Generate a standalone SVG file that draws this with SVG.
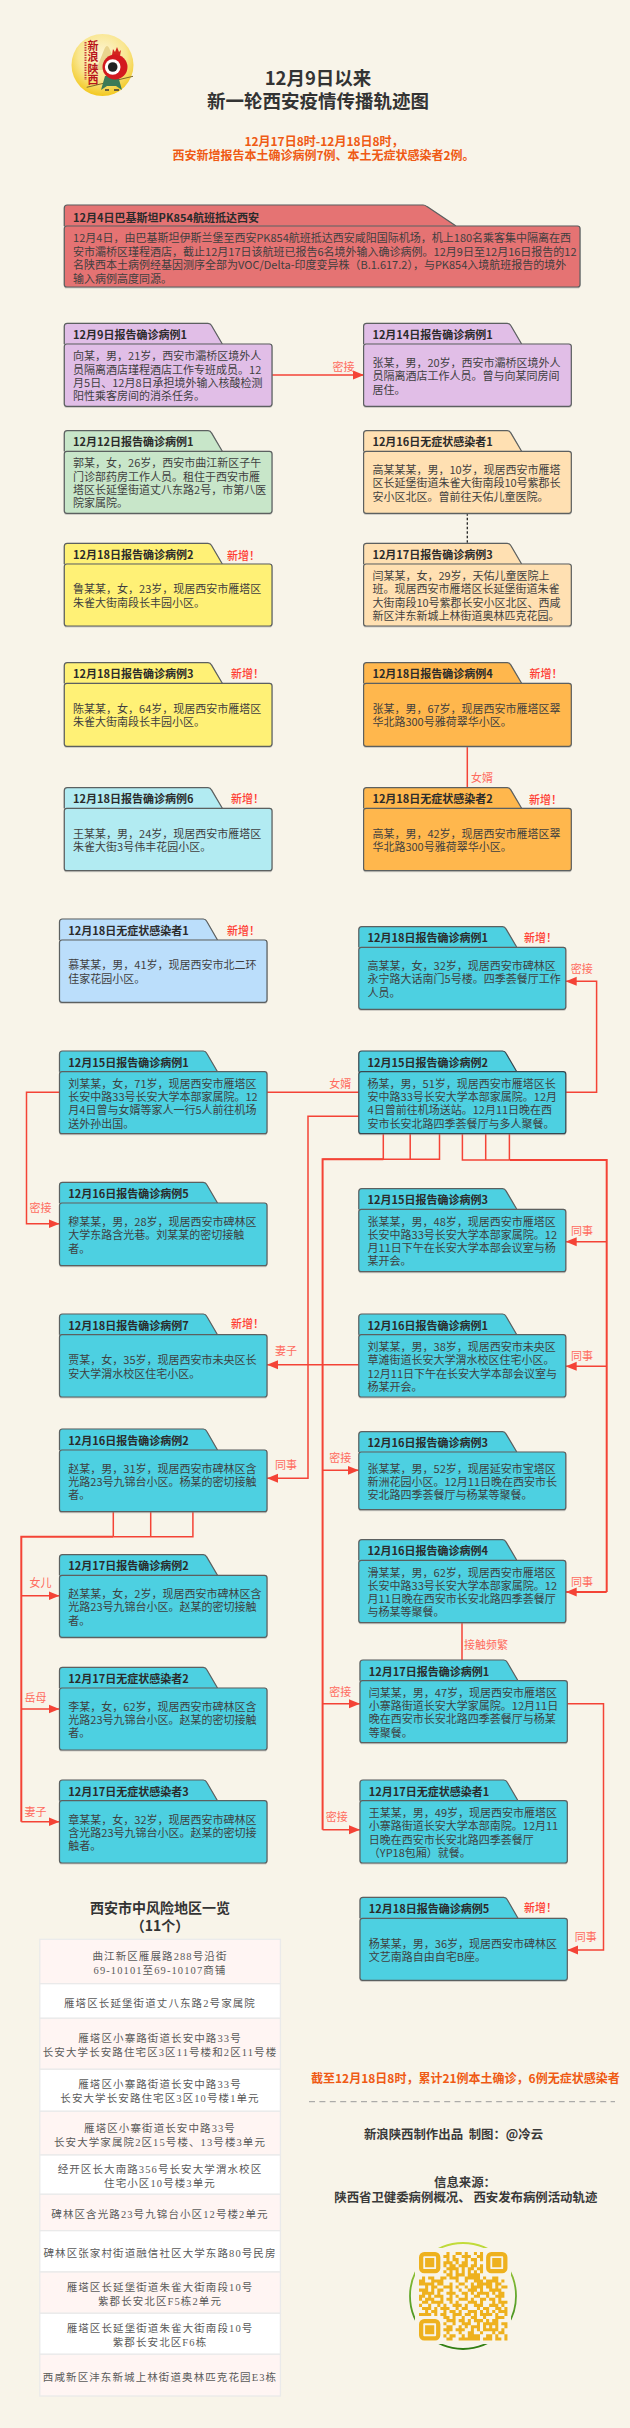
<svg xmlns="http://www.w3.org/2000/svg" width="630" height="2428" viewBox="0 0 630 2428">
<style>
text{font-family:"Noto Sans CJK SC","Noto Sans",sans-serif}
.f{stroke:#5c6060;stroke-width:1.2;filter:url(#sh)}
.d{stroke:#37474f}
.t{font-size:11px;font-weight:700;fill:#2b2b2b}
.b{font-size:11px;fill:#3f3f3f}
.l{font-size:11px;fill:#ff6b5e}
.n{font-size:11px;fill:#ff3d33;font-weight:500}
.c{fill:none;stroke:#f44336;stroke-width:1.5}
.c2{fill:none;stroke:#f44336;stroke-width:2}
.a{marker-end:url(#ar)}
.ttl{font-size:18.5px;font-weight:700;fill:#333;text-anchor:middle}
.or{font-size:12px;font-weight:700;fill:#ef5a14}
.blk{font-size:12.4px;font-weight:700;fill:#3a3a3a;text-anchor:middle}
.rp{fill:#fff5f3;stroke:#eaeaea;stroke-width:1.3}
.rw{fill:#fff;stroke:#eaeaea;stroke-width:1.3}
.tb{font-family:"Liberation Serif","Noto Sans CJK SC",serif;font-size:10.5px;letter-spacing:1.1px;fill:#5a5a5a;text-anchor:middle}
.purple{fill:#e1bee7}.green{fill:#c8e6c9}.yellow{fill:#fff176}.peach{fill:#ffe0b2}.orange{fill:#ffb74d}.cyan{fill:#b2ebf2}.blue{fill:#bbdefb}.teal{fill:#4dd0e1}.red{fill:#e57373}
</style>
<defs>
<filter id="sh" x="-5%" y="-5%" width="110%" height="115%"><feDropShadow dx="0" dy="0.6" stdDeviation="0.5" flood-color="#8a8a8a" flood-opacity="0.6"/></filter>
<marker id="ar" markerUnits="userSpaceOnUse" markerWidth="11" markerHeight="10" refX="11" refY="5" orient="auto"><path d="M0 .5L11 5L0 9.5z" fill="#f44336"/></marker>
<radialGradient id="gold" cx="50%" cy="35%" r="65%"><stop offset="0" stop-color="#fdf6d8"/><stop offset=".6" stop-color="#f9e690"/><stop offset="1" stop-color="#f3c81e"/></radialGradient>
<linearGradient id="ring" x1="0" y1="0" x2="0" y2="1"><stop offset="0" stop-color="#c3dc3a"/><stop offset=".5" stop-color="#63a82e"/><stop offset="1" stop-color="#2f7d12"/></linearGradient>
</defs>
<rect width="630" height="2428" fill="#f8f4e9"/>

<g id="logo">
<circle cx="102.5" cy="65" r="31" fill="url(#gold)"/>
<path d="M96 70L104 50Q107 42 110 50L118 70z" fill="#e9d48e"/>
<path d="M85.500 42V80" stroke="#c9433a" stroke-width="2" stroke-dasharray="1.500 1" fill="none"/>
<text x="93" y="50" font-size="11" font-weight="700" fill="#b8141c" text-anchor="middle">新</text>
<text x="93" y="61.300" font-size="11" font-weight="700" fill="#b8141c" text-anchor="middle">浪</text>
<text x="93" y="72.600" font-size="11" font-weight="700" fill="#b8141c" text-anchor="middle">陕</text>
<text x="93" y="84" font-size="11" font-weight="700" fill="#b8141c" text-anchor="middle">西</text>
<path d="M86.700 87.300L133 76.300" stroke="#7d6a2a" stroke-width="1"/>
<path d="M101 90L105 76H118L122 90L116 86H107z" fill="#3b7a57"/>
<path d="M105 90h4M114 90h5" stroke="#3a3a3a" stroke-width="1.500"/>
<path d="M112 55L113 49L115 52L117 47L119 52L121 50L120 56z" fill="#d3261f"/>
<circle cx="115" cy="67" r="12.500" fill="#d3191f"/>
<circle cx="112.700" cy="67" r="7.800" fill="#fff"/>
<circle cx="112.700" cy="67" r="4.800" fill="#222"/>
</g>

<g id="header">
<text class="ttl" x="318" y="85">12月9日以来</text>
<text class="ttl" x="318" y="108">新一轮西安疫情传播轨迹图</text>
<text class="or" x="324" y="146" text-anchor="middle">12月17日8时-12月18日8时，</text>
<text class="or" x="323.500" y="160" text-anchor="middle">西安新增报告本土确诊病例7例、本土无症状感染者2例。</text>
</g>

<g id="connectors">
<path class="c a" d="M272 375H364"/>
<path d="M467.300 513.300V543.300" fill="none" stroke="#222" stroke-width="1.300" stroke-dasharray="2.500 2"/>
<path class="c" d="M467.300 746.300V787.700"/>
<path class="c a" d="M565.700 1092.300H596.600V981.300H565.700"/>
<path class="c a" d="M59.500 1092.300H26.500V1223.700H59.500"/>
<path class="c" d="M267 1092.300H358.800"/>
<path class="c a" d="M358.800 1116.300H308V1478.300H267"/>
<path class="c" d="M383.300 1133.700V1159.300M410.200 1133.700V1159.300M439.500 1133.700V1159.300H322.600"/>
<path class="c2" d="M383.300 1159.300H322.600V1829.700"/>
<path class="c a" d="M322.600 1470.300H358.800"/>
<path class="c a" d="M322.600 1703.700H360"/>
<path class="c a" d="M322.600 1829.700H360"/>
<path class="c" d="M462.400 1133.700V1160H509.400M485.700 1133.700V1160M509.400 1133.700V1160"/>
<path class="c2" d="M509.400 1160H606.700V1592"/>
<path class="c a" d="M606.700 1241.700H565.700"/>
<path class="c a" d="M606.700 1366.300H565.700"/>
<path class="c2 a" d="M606.700 1592H565.700"/>
<path class="c a" d="M358.800 1364.700H267"/>
<path class="c" d="M462 1622.700V1660"/>
<path class="c" d="M113.300 1511.700V1536.700M150.700 1511.700V1536.700M192.900 1511.700V1536.700H113.300"/>
<path class="c2" d="M113.300 1536.700H21.300V1821.700"/>
<path class="c a" d="M21.300 1595.700H59.500"/>
<path class="c a" d="M21.300 1709H59.500"/>
<path class="c a" d="M21.300 1821.700H59.500"/>
<path class="c a" d="M567.300 1703.700H603.500V1950H567.300"/>
<text class="l" x="343.500" y="370.700" text-anchor="middle">密接</text>
<text class="l" x="482" y="782.300" text-anchor="middle">女婿</text>
<text class="l" x="581.800" y="973.300" text-anchor="middle">密接</text>
<text class="l" x="40.600" y="1211.700" text-anchor="middle">密接</text>
<text class="l" x="340.300" y="1088.300" text-anchor="middle">女婿</text>
<text class="l" x="286" y="1469.300" text-anchor="middle">同事</text>
<text class="l" x="340.300" y="1461.700" text-anchor="middle">密接</text>
<text class="l" x="340.300" y="1695.700" text-anchor="middle">密接</text>
<text class="l" x="336.700" y="1821" text-anchor="middle">密接</text>
<text class="l" x="582" y="1235" text-anchor="middle">同事</text>
<text class="l" x="582" y="1360" text-anchor="middle">同事</text>
<text class="l" x="582" y="1586" text-anchor="middle">同事</text>
<text class="l" x="286" y="1355" text-anchor="middle">妻子</text>
<text class="l" x="486" y="1649" text-anchor="middle">接触频繁</text>
<text class="l" x="40.600" y="1586.700" text-anchor="middle">女儿</text>
<text class="l" x="35.400" y="1701.700" text-anchor="middle">岳母</text>
<text class="l" x="35.400" y="1815.700" text-anchor="middle">妻子</text>
<text class="l" x="585.800" y="1941" text-anchor="middle">同事</text>
</g>

<g id="n0" class="red">
<path class="f" d="M64.300 226V208Q64.300 205 67.300 205H423Q425 205 427 206.600L456 226"/>
<rect class="f" x="64.300" y="226" width="515.700" height="61" rx="2.500"/>
<text class="t" x="73.100" y="221.500">12月4日巴基斯坦PK854航班抵达西安</text>
<text class="b"><tspan x="73.100" y="242.300">12月4日，由巴基斯坦伊斯兰堡至西安PK854航班抵达西安咸阳国际机场，机上180名乘客集中隔离在西</tspan><tspan x="73.100" dy="13.400">安市灞桥区瑾程酒店，截止12月17日该航班已报告6名境外输入确诊病例。12月9日至12月16日报告的12</tspan><tspan x="73.100" dy="13.400">名陕西本土病例经基因测序全部为VOC/Delta-印度变异株（B.1.617.2），与PK854入境航班报告的境外</tspan><tspan x="73.100" dy="13.400">输入病例高度同源。</tspan></text>
</g>

<g id="n1" class="purple">
<path class="f" d="M64.300 344V326.300Q64.300 323.300 67.300 323.300H208Q210.500 323.300 211.500 325.500L222.300 344"/>
<rect class="f" x="64.300" y="344" width="207.700" height="62.300" rx="2.500"/>
<text class="t" x="73.100" y="339">12月9日报告确诊病例1</text>
<text class="b"><tspan x="73.100" y="360.200">向某，男，21岁，西安市灞桥区境外人</tspan><tspan x="73.100" dy="13.330">员隔离酒店瑾程酒店工作专班成员。12</tspan><tspan x="73.100" dy="13.330">月5日、12月8日承担境外输入核酸检测</tspan><tspan x="73.100" dy="13.330">阳性乘客房间的消杀任务。</tspan></text>
</g>
<g id="n2" class="purple">
<path class="f" d="M363.600 344V326.300Q363.600 323.300 366.600 323.300H507.300Q509.800 323.300 510.800 325.500L521.600 344"/>
<rect class="f" x="363.600" y="344" width="207.700" height="62.300" rx="2.500"/>
<text class="t" x="372.400" y="339">12月14日报告确诊病例1</text>
<text class="b"><tspan x="372.400" y="366.900">张某，男，20岁，西安市灞桥区境外人</tspan><tspan x="372.400" dy="13.330">员隔离酒店工作人员。曾与向某同房间</tspan><tspan x="372.400" dy="13.330">居住。</tspan></text>
</g>
<g id="n3" class="green">
<path class="f" d="M64.300 451.300V433.700Q64.300 430.700 67.300 430.700H208Q210.500 430.700 211.500 432.900L222.300 451.300"/>
<rect class="f" x="64.300" y="451.300" width="207.700" height="62" rx="2.500"/>
<text class="t" x="73.100" y="446.300">12月12日报告确诊病例1</text>
<text class="b"><tspan x="73.100" y="467.300">郭某，女，26岁，西安市曲江新区子午</tspan><tspan x="73.100" dy="13.330">门诊部药房工作人员。租住于西安市雁</tspan><tspan x="73.100" dy="13.330">塔区长延堡街道丈八东路2号，市第八医</tspan><tspan x="73.100" dy="13.330">院家属院。</tspan></text>
</g>
<g id="n4" class="peach">
<path class="f" d="M363.600 451.300V433.700Q363.600 430.700 366.600 430.700H507.300Q509.800 430.700 510.800 432.900L521.600 451.300"/>
<rect class="f" x="363.600" y="451.300" width="207.700" height="62" rx="2.500"/>
<text class="t" x="372.400" y="446.300">12月16日无症状感染者1</text>
<text class="b"><tspan x="372.400" y="474">高某某某，男，10岁，现居西安市雁塔</tspan><tspan x="372.400" dy="13.330">区长延堡街道朱雀大街南段10号紫郡长</tspan><tspan x="372.400" dy="13.330">安小区北区。曾前往天佑儿童医院。</tspan></text>
</g>
<g id="n5" class="yellow">
<path class="f" d="M64.300 564V546.300Q64.300 543.300 67.300 543.300H208Q210.500 543.300 211.500 545.500L222.300 564"/>
<rect class="f" x="64.300" y="564" width="207.700" height="62" rx="2.500"/>
<text class="t" x="73.100" y="559">12月18日报告确诊病例2</text>
<text class="n" x="227" y="560">新增！</text>
<text class="b"><tspan x="73.100" y="593.300">鲁某某，女，23岁，现居西安市雁塔区</tspan><tspan x="73.100" dy="13.330">朱雀大街南段长丰园小区。</tspan></text>
</g>
<g id="n6" class="peach">
<path class="f" d="M363.600 564V546.300Q363.600 543.300 366.600 543.300H507.300Q509.800 543.300 510.800 545.500L521.600 564"/>
<rect class="f" x="363.600" y="564" width="207.700" height="62" rx="2.500"/>
<text class="t" x="372.400" y="559">12月17日报告确诊病例3</text>
<text class="b"><tspan x="372.400" y="580">闫某某，女，29岁，天佑儿童医院上</tspan><tspan x="372.400" dy="13.330">班。现居西安市雁塔区长延堡街道朱雀</tspan><tspan x="372.400" dy="13.330">大街南段10号紫郡长安小区北区、西咸</tspan><tspan x="372.400" dy="13.330">新区沣东新城上林街道奥林匹克花园。</tspan></text>
</g>
<g id="n7" class="yellow">
<path class="f" d="M64.300 683.300V665.700Q64.300 662.700 67.300 662.700H208Q210.500 662.700 211.500 664.900L222.300 683.300"/>
<rect class="f" x="64.300" y="683.300" width="207.700" height="63" rx="2.500"/>
<text class="t" x="73.100" y="678.300">12月18日报告确诊病例3</text>
<text class="n" x="231" y="678">新增！</text>
<text class="b"><tspan x="73.100" y="713.100">陈某某，女，64岁，现居西安市雁塔区</tspan><tspan x="73.100" dy="13.330">朱雀大街南段长丰园小区。</tspan></text>
</g>
<g id="n8" class="orange">
<path class="f" d="M363.600 683.300V665.700Q363.600 662.700 366.600 662.700H507.300Q509.800 662.700 510.800 664.900L521.600 683.300"/>
<rect class="f" x="363.600" y="683.300" width="207.700" height="63" rx="2.500"/>
<text class="t" x="372.400" y="678.300">12月18日报告确诊病例4</text>
<text class="n" x="529.500" y="678">新增！</text>
<text class="b"><tspan x="372.400" y="713.100">张某，男，67岁，现居西安市雁塔区翠</tspan><tspan x="372.400" dy="13.330">华北路300号雅荷翠华小区。</tspan></text>
</g>
<g id="n9" class="cyan">
<path class="f" d="M64.300 808.300V790.700Q64.300 787.700 67.300 787.700H208Q210.500 787.700 211.500 789.900L222.300 808.300"/>
<rect class="f" x="64.300" y="808.300" width="207.700" height="62.400" rx="2.500"/>
<text class="t" x="73.100" y="803.300">12月18日报告确诊病例6</text>
<text class="n" x="231" y="802.700">新增！</text>
<text class="b"><tspan x="73.100" y="837.800">王某某，男，24岁，现居西安市雁塔区</tspan><tspan x="73.100" dy="13.330">朱雀大街3号伟丰花园小区。</tspan></text>
</g>
<g id="n10" class="orange">
<path class="f" d="M363.600 808.300V790.700Q363.600 787.700 366.600 787.700H507.300Q509.800 787.700 510.800 789.900L521.600 808.300"/>
<rect class="f" x="363.600" y="808.300" width="207.700" height="62.400" rx="2.500"/>
<text class="t" x="372.400" y="803.300">12月18日无症状感染者2</text>
<text class="n" x="529" y="804">新增！</text>
<text class="b"><tspan x="372.400" y="837.800">高某，男，42岁，现居西安市雁塔区翠</tspan><tspan x="372.400" dy="13.330">华北路300号雅荷翠华小区。</tspan></text>
</g>
<g id="n11" class="blue">
<path class="f" d="M59.500 940V922Q59.500 919 62.500 919H203.200Q205.700 919 206.700 921.200L217.500 940"/>
<rect class="f" x="59.500" y="940" width="207.500" height="62.300" rx="2.500"/>
<text class="t" x="68.300" y="935">12月18日无症状感染者1</text>
<text class="n" x="227" y="934.700">新增！</text>
<text class="b"><tspan x="68.300" y="969.400">慕某某，男，41岁，现居西安市北二环</tspan><tspan x="68.300" dy="13.330">佳家花园小区。</tspan></text>
</g>
<g id="n12" class="teal">
<path class="f" d="M358.800 947.300V929.700Q358.800 926.700 361.800 926.700H502.500Q505 926.700 506 928.900L516.800 947.300"/>
<rect class="f" x="358.800" y="947.300" width="207" height="62" rx="2.500"/>
<text class="t" x="367.600" y="942.300">12月18日报告确诊病例1</text>
<text class="n" x="524" y="942">新增！</text>
<text class="b"><tspan x="367.600" y="970">高某某，女，32岁，现居西安市碑林区</tspan><tspan x="367.600" dy="13.330">永宁路大话南门5号楼。四季荟餐厅工作</tspan><tspan x="367.600" dy="13.330">人员。</tspan></text>
</g>
<g id="n13" class="teal">
<path class="f" d="M59.500 1071.700V1054Q59.500 1051 62.500 1051H203.200Q205.700 1051 206.700 1053.200L217.500 1071.700"/>
<rect class="f" x="59.500" y="1071.700" width="207.500" height="62" rx="2.500"/>
<text class="t" x="68.300" y="1066.700">12月15日报告确诊病例1</text>
<text class="b"><tspan x="68.300" y="1087.700">刘某某，女，71岁，现居西安市雁塔区</tspan><tspan x="68.300" dy="13.330">长安中路33号长安大学本部家属院。12</tspan><tspan x="68.300" dy="13.330">月4日曾与女婿等家人一行5人前往机场</tspan><tspan x="68.300" dy="13.330">送外孙出国。</tspan></text>
</g>
<g id="n14" class="teal">
<path class="f d" d="M358.800 1071.700V1054Q358.800 1051 361.800 1051H502.500Q505 1051 506 1053.200L516.800 1071.700"/>
<rect class="f d" x="358.800" y="1071.700" width="207" height="62" rx="2.500"/>
<text class="t" x="367.600" y="1066.700">12月15日报告确诊病例2</text>
<text class="b"><tspan x="367.600" y="1087.700">杨某，男，51岁，现居西安市雁塔区长</tspan><tspan x="367.600" dy="13.330">安中路33号长安大学本部家属院。12月</tspan><tspan x="367.600" dy="13.330">4日曾前往机场送站。12月11日晚在西</tspan><tspan x="367.600" dy="13.330">安市长安北路四季荟餐厅与多人聚餐。</tspan></text>
</g>
<g id="n15" class="teal">
<path class="f" d="M59.500 1203V1185.300Q59.500 1182.300 62.500 1182.300H203.200Q205.700 1182.300 206.700 1184.500L217.500 1203"/>
<rect class="f" x="59.500" y="1203" width="207.500" height="62.700" rx="2.500"/>
<text class="t" x="68.300" y="1198">12月16日报告确诊病例5</text>
<text class="b"><tspan x="68.300" y="1226">穆某某，男，28岁，现居西安市碑林区</tspan><tspan x="68.300" dy="13.330">大学东路含光巷。刘某某的密切接触</tspan><tspan x="68.300" dy="13.330">者。</tspan></text>
</g>
<g id="n16" class="teal">
<path class="f" d="M358.800 1209.300V1191.700Q358.800 1188.700 361.800 1188.700H502.500Q505 1188.700 506 1190.900L516.800 1209.300"/>
<rect class="f" x="358.800" y="1209.300" width="207" height="62.400" rx="2.500"/>
<text class="t" x="367.600" y="1204.300">12月15日报告确诊病例3</text>
<text class="b"><tspan x="367.600" y="1225.500">张某某，男，48岁，现居西安市雁塔区</tspan><tspan x="367.600" dy="13.330">长安中路33号长安大学本部家属院。12</tspan><tspan x="367.600" dy="13.330">月11日下午在长安大学本部会议室与杨</tspan><tspan x="367.600" dy="13.330">某开会。</tspan></text>
</g>
<g id="n17" class="teal">
<path class="f" d="M59.500 1334.700V1317Q59.500 1314 62.500 1314H203.200Q205.700 1314 206.700 1316.200L217.500 1334.700"/>
<rect class="f" x="59.500" y="1334.700" width="207.500" height="62.300" rx="2.500"/>
<text class="t" x="68.300" y="1329.700">12月18日报告确诊病例7</text>
<text class="n" x="231" y="1327.700">新增！</text>
<text class="b"><tspan x="68.300" y="1364.200">贾某，女，35岁，现居西安市未央区长</tspan><tspan x="68.300" dy="13.330">安大学渭水校区住宅小区。</tspan></text>
</g>
<g id="n18" class="teal">
<path class="f" d="M358.800 1334.700V1317Q358.800 1314 361.800 1314H502.500Q505 1314 506 1316.200L516.800 1334.700"/>
<rect class="f" x="358.800" y="1334.700" width="207" height="62.300" rx="2.500"/>
<text class="t" x="367.600" y="1329.700">12月16日报告确诊病例1</text>
<text class="b"><tspan x="367.600" y="1350.900">刘某某，男，38岁，现居西安市未央区</tspan><tspan x="367.600" dy="13.330">草滩街道长安大学渭水校区住宅小区。</tspan><tspan x="367.600" dy="13.330">12月11日下午在长安大学本部会议室与</tspan><tspan x="367.600" dy="13.330">杨某开会。</tspan></text>
</g>
<g id="n19" class="teal">
<path class="f" d="M59.500 1450V1432Q59.500 1429 62.500 1429H203.200Q205.700 1429 206.700 1431.200L217.500 1450"/>
<rect class="f" x="59.500" y="1450" width="207.500" height="61.700" rx="2.500"/>
<text class="t" x="68.300" y="1445">12月16日报告确诊病例2</text>
<text class="b"><tspan x="68.300" y="1472.600">赵某，男，31岁，现居西安市碑林区含</tspan><tspan x="68.300" dy="13.330">光路23号九锦台小区。杨某的密切接触</tspan><tspan x="68.300" dy="13.330">者。</tspan></text>
</g>
<g id="n20" class="teal">
<path class="f" d="M358.800 1452V1434.700Q358.800 1431.700 361.800 1431.700H502.500Q505 1431.700 506 1433.900L516.800 1452"/>
<rect class="f" x="358.800" y="1452" width="207" height="57.700" rx="2.500"/>
<text class="t" x="367.600" y="1447">12月16日报告确诊病例3</text>
<text class="b"><tspan x="367.600" y="1472.600">张某某，男，52岁，现居延安市宝塔区</tspan><tspan x="367.600" dy="13.330">新洲花园小区。12月11日晚在西安市长</tspan><tspan x="367.600" dy="13.330">安北路四季荟餐厅与杨某等聚餐。</tspan></text>
</g>
<g id="n21" class="teal">
<path class="f" d="M358.800 1560.300V1542.700Q358.800 1539.700 361.800 1539.700H502.500Q505 1539.700 506 1541.900L516.800 1560.300"/>
<rect class="f" x="358.800" y="1560.300" width="207" height="62.400" rx="2.500"/>
<text class="t" x="367.600" y="1555.300">12月16日报告确诊病例4</text>
<text class="b"><tspan x="367.600" y="1576.500">滑某某，男，62岁，现居西安市雁塔区</tspan><tspan x="367.600" dy="13.330">长安中路33号长安大学本部家属院。12</tspan><tspan x="367.600" dy="13.330">月11日晚在西安市长安北路四季荟餐厅</tspan><tspan x="367.600" dy="13.330">与杨某等聚餐。</tspan></text>
</g>
<g id="n22" class="teal">
<path class="f" d="M59.500 1575.300V1557.700Q59.500 1554.700 62.500 1554.700H203.200Q205.700 1554.700 206.700 1556.900L217.500 1575.300"/>
<rect class="f" x="59.500" y="1575.300" width="207.500" height="62" rx="2.500"/>
<text class="t" x="68.300" y="1570.300">12月17日报告确诊病例2</text>
<text class="b"><tspan x="68.300" y="1598">赵某某，女，2岁，现居西安市碑林区含</tspan><tspan x="68.300" dy="13.330">光路23号九锦台小区。赵某的密切接触</tspan><tspan x="68.300" dy="13.330">者。</tspan></text>
</g>
<g id="n23" class="teal">
<path class="f" d="M360 1680.700V1663Q360 1660 363 1660H503.700Q506.200 1660 507.200 1662.200L518 1680.700"/>
<rect class="f" x="360" y="1680.700" width="207.300" height="62" rx="2.500"/>
<text class="t" x="368.800" y="1675.700">12月17日报告确诊病例1</text>
<text class="b"><tspan x="368.800" y="1696.700">闫某某，男，47岁，现居西安市雁塔区</tspan><tspan x="368.800" dy="13.330">小寨路街道长安大学家属院。12月11日</tspan><tspan x="368.800" dy="13.330">晚在西安市长安北路四季荟餐厅与杨某</tspan><tspan x="368.800" dy="13.330">等聚餐。</tspan></text>
</g>
<g id="n24" class="teal">
<path class="f" d="M59.500 1688V1670.300Q59.500 1667.300 62.500 1667.300H203.200Q205.700 1667.300 206.700 1669.500L217.500 1688"/>
<rect class="f" x="59.500" y="1688" width="207.500" height="62" rx="2.500"/>
<text class="t" x="68.300" y="1683">12月17日无症状感染者2</text>
<text class="b"><tspan x="68.300" y="1710.700">李某，女，62岁，现居西安市碑林区含</tspan><tspan x="68.300" dy="13.330">光路23号九锦台小区。赵某的密切接触</tspan><tspan x="68.300" dy="13.330">者。</tspan></text>
</g>
<g id="n25" class="teal">
<path class="f" d="M59.500 1800.700V1783Q59.500 1780 62.500 1780H203.200Q205.700 1780 206.700 1782.200L217.500 1800.700"/>
<rect class="f" x="59.500" y="1800.700" width="207.500" height="62.300" rx="2.500"/>
<text class="t" x="68.300" y="1795.700">12月17日无症状感染者3</text>
<text class="b"><tspan x="68.300" y="1823.600">章某某，女，32岁，现居西安市碑林区</tspan><tspan x="68.300" dy="13.330">含光路23号九锦台小区。赵某的密切接</tspan><tspan x="68.300" dy="13.330">触者。</tspan></text>
</g>
<g id="n26" class="teal">
<path class="f" d="M360 1800.700V1783Q360 1780 363 1780H503.700Q506.200 1780 507.200 1782.200L518 1800.700"/>
<rect class="f" x="360" y="1800.700" width="207.300" height="62.300" rx="2.500"/>
<text class="t" x="368.800" y="1795.700">12月17日无症状感染者1</text>
<text class="b"><tspan x="368.800" y="1816.900">王某某，男，49岁，现居西安市雁塔区</tspan><tspan x="368.800" dy="13.330">小寨路街道长安大学本部南院。12月11</tspan><tspan x="368.800" dy="13.330">日晚在西安市长安北路四季荟餐厅</tspan><tspan x="368.800" dy="13.330">（YP18包厢）就餐。</tspan></text>
</g>
<g id="n27" class="teal">
<path class="f" d="M360 1918.300V1900.300Q360 1897.300 363 1897.300H503.700Q506.200 1897.300 507.200 1899.500L518 1918.300"/>
<rect class="f" x="360" y="1918.300" width="207.300" height="62" rx="2.500"/>
<text class="t" x="368.800" y="1913.300">12月18日报告确诊病例5</text>
<text class="n" x="524" y="1912.300">新增！</text>
<text class="b"><tspan x="368.800" y="1947.600">杨某某，男，36岁，现居西安市碑林区</tspan><tspan x="368.800" dy="13.330">文艺南路自由自宅B座。</tspan></text>
</g>

<g id="risk-table">
<text x="160" y="1913.300" font-size="14" font-weight="700" fill="#333" text-anchor="middle">西安市中风险地区一览</text>
<text x="160" y="1930.700" font-size="14" font-weight="700" fill="#333" text-anchor="middle">（11个）</text>
<rect class="rp" x="39.800" y="1939.300" width="240.600" height="44.400"/>
<rect class="rw" x="39.800" y="1983.700" width="240.600" height="34.600"/>
<rect class="rp" x="39.800" y="2018.300" width="240.600" height="51"/>
<rect class="rw" x="39.800" y="2069.300" width="240.600" height="42"/>
<rect class="rp" x="39.800" y="2111.300" width="240.600" height="43.700"/>
<rect class="rw" x="39.800" y="2155" width="240.600" height="39.300"/>
<rect class="rp" x="39.800" y="2194.300" width="240.600" height="36.400"/>
<rect class="rw" x="39.800" y="2230.700" width="240.600" height="41.300"/>
<rect class="rp" x="39.800" y="2272" width="240.600" height="41.300"/>
<rect class="rw" x="39.800" y="2313.300" width="240.600" height="41"/>
<rect class="rp" x="39.800" y="2354.300" width="240.600" height="41.700"/>
<text class="tb" x="160" y="1960">曲江新区雁展路288号沿街</text>
<text class="tb" x="160" y="1974">69-10101至69-10107商铺</text>
<text class="tb" x="160" y="2006.700">雁塔区长延堡街道丈八东路2号家属院</text>
<text class="tb" x="160" y="2041.700">雁塔区小寨路街道长安中路33号</text>
<text class="tb" x="160" y="2055.700">长安大学长安路住宅区3区11号楼和2区11号楼</text>
<text class="tb" x="160" y="2088.300">雁塔区小寨路街道长安中路33号</text>
<text class="tb" x="160" y="2102.300">长安大学长安路住宅区3区10号楼1单元</text>
<text class="tb" x="160" y="2131.700">雁塔区小寨街道长安中路33号</text>
<text class="tb" x="160" y="2145.700">长安大学家属院2区15号楼、13号楼3单元</text>
<text class="tb" x="160" y="2172.700">经开区长大南路356号长安大学渭水校区</text>
<text class="tb" x="160" y="2186.700">住宅小区10号楼3单元</text>
<text class="tb" x="160" y="2218.300">碑林区含光路23号九锦台小区12号楼2单元</text>
<text class="tb" x="160" y="2257.300">碑林区张家村街道融信社区大学东路80号民房</text>
<text class="tb" x="160" y="2290.700">雁塔区长延堡街道朱雀大街南段10号</text>
<text class="tb" x="160" y="2305">紫郡长安北区F5栋2单元</text>
<text class="tb" x="160" y="2332">雁塔区长延堡街道朱雀大街南段10号</text>
<text class="tb" x="160" y="2346">紫郡长安北区F6栋</text>
<text class="tb" x="160" y="2380.700">西咸新区沣东新城上林街道奥林匹克花园E3栋</text>
</g>

<g id="footer">
<text class="or" x="311" y="2082.700">截至12月18日8时，累计21例本土确诊，6例无症状感染者</text>
<path d="M309 2101.700H615" stroke="#9a9a9a" stroke-width="1" stroke-dasharray="6 4.400" fill="none"/>
<text class="blk" x="453.500" y="2139" xml:space="preserve">新浪陕西制作出品  制图：@冷云</text>
<text class="blk" x="465" y="2186.700">信息来源：</text>
<text class="blk" x="465.800" y="2201.700">陕西省卫健委病例概况、 西安发布病例活动轨迹</text>
</g>

<g id="qr">
<circle cx="463" cy="2296" r="53" fill="none" stroke="url(#ring)" stroke-width="1.800"/>
<rect x="415" y="2248" width="96" height="96" fill="#f8f4e9"/>
<g transform="translate(419 2252) scale(3.05)" fill="none" stroke="#eeb11e">
<rect x=".7" y=".7" width="5.600" height="5.600" rx="1" stroke-width="1.400"/>
<rect x="22.700" y=".7" width="5.600" height="5.600" rx="1" stroke-width="1.400"/>
<rect x=".7" y="22.700" width="5.600" height="5.600" rx="1" stroke-width="1.400"/>
<path d="M2 3.500h3M24 3.500h3M2 25.500h3" stroke-width="3"/>
<path stroke-width="1" d="M9 .5h1M12 .5h2M15 .5h1M18 .5h1M20 .5h1M8 1.500h2M11 1.500h1M14 1.500h3M19 1.500h2M9 2.500h1M11 2.500h2M15 2.500h1M17 2.500h2M20 2.500h1M8 3.500h3M12 3.500h1M14 3.500h2M18 3.500h1M8 4.500h1M10 4.500h2M13 4.500h3M17 4.500h2M20 4.500h1M9 5.500h4M14 5.500h1M16 5.500h2M19 5.500h2M8 6.500h1M10 6.500h1M12 6.500h1M14 6.500h1M16 6.500h1M18 6.500h1M20 6.500h1M9 7.500h2M12 7.500h3M16 7.500h4M1 8.500h1M3 8.500h2M7 8.500h2M10 8.500h3M15 8.500h5M21 8.500h1M24 8.500h2M0 9.500h2M4 9.500h4M12 9.500h1M15 9.500h1M18 9.500h3M22 9.500h4M27 9.500h1M0 10.500h5M6 10.500h2M10 10.500h1M13 10.500h2M17 10.500h1M19 10.500h5M25 10.500h2M2 11.500h1M4 11.500h2M8 11.500h3M12 11.500h1M15 11.500h1M17 11.500h4M22 11.500h2M25 11.500h1M27 11.500h2M0 12.500h3M4 12.500h1M6 12.500h2M10 12.500h1M13 12.500h1M16 12.500h3M20 12.500h1M23 12.500h4M1 13.500h4M6 13.500h1M9 13.500h3M14 13.500h2M17 13.500h1M19 13.500h4M24 13.500h1M26 13.500h2M0 14.500h2M3 14.500h1M5 14.500h3M10 14.500h1M12 14.500h1M15 14.500h1M18 14.500h2M22 14.500h1M25 14.500h3M0 15.500h1M2 15.500h3M7 15.500h1M9 15.500h2M13 15.500h3M17 15.500h1M20 15.500h2M23 15.500h2M26 15.500h1M1 16.500h2M4 16.500h4M10 16.500h1M12 16.500h1M16 16.500h3M20 16.500h1M24 16.500h1M26 16.500h3M0 17.500h1M3 17.500h1M6 17.500h1M8 17.500h1M11 17.500h3M15 17.500h1M18 17.500h3M23 17.500h3M27 17.500h1M1 18.500h3M5 18.500h1M7 18.500h3M12 18.500h1M14 18.500h2M19 18.500h1M21 18.500h2M25 18.500h2M28 18.500h1M2 19.500h1M4 19.500h2M8 19.500h1M10 19.500h2M13 19.500h1M16 19.500h3M20 19.500h1M22 19.500h1M24 19.500h1M26 19.500h3M0 20.500h4M5 20.500h1M7 20.500h2M11 20.500h3M15 20.500h2M18 20.500h1M20 20.500h4M25 20.500h1M28 20.500h1M8 21.500h2M11 21.500h1M14 21.500h1M17 21.500h2M21 21.500h1M25 21.500h3M9 22.500h3M13 22.500h2M16 22.500h1M18 22.500h3M22 22.500h1M24 22.500h2M8 23.500h1M11 23.500h1M14 23.500h3M19 23.500h1M21 23.500h5M27 23.500h2M9 24.500h2M13 24.500h1M15 24.500h1M17 24.500h3M21 24.500h1M23 24.500h1M25 24.500h1M28 24.500h1M8 25.500h3M12 25.500h3M17 25.500h1M19 25.500h1M21 25.500h5M27 25.500h1M9 26.500h1M13 26.500h1M16 26.500h2M20 26.500h1M24 26.500h1M26 26.500h2M8 27.500h1M10 27.500h2M14 27.500h1M16 27.500h4M22 27.500h2M25 27.500h1M28 27.500h1M9 28.500h2M13 28.500h2M15 28.500h5M21 28.500h3M25 28.500h2M28 28.500h1"/>
</g>
</g>
</svg>
